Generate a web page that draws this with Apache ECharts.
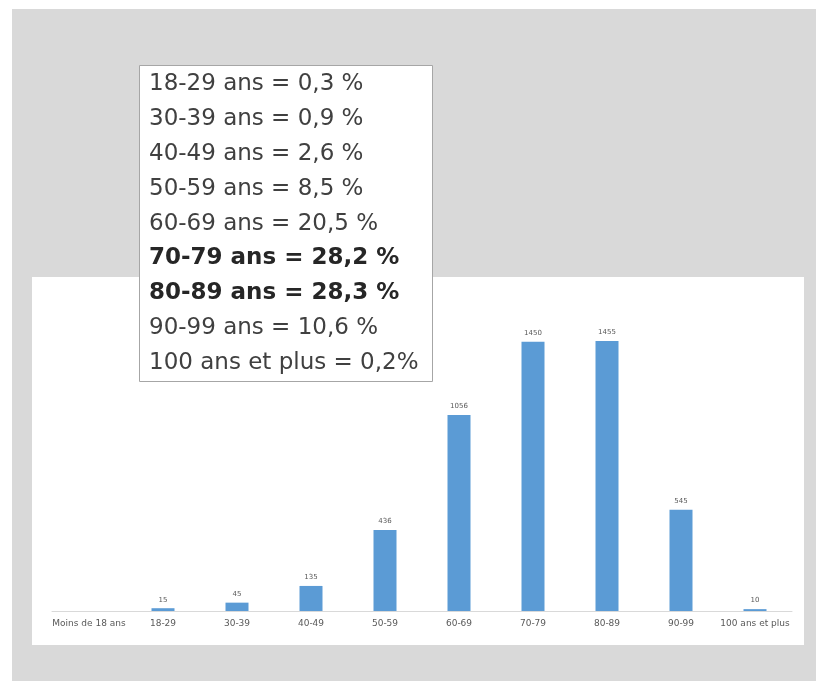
<!DOCTYPE html>
<html>
<head>
<meta charset="utf-8">
<script src="https://cdn.jsdelivr.net/npm/echarts@6/dist/echarts.min.js"></script>
<style>
  html, body { margin: 0; padding: 0; background: #fff; }
  #chart { width: 816px; height: 681px; }
</style>
</head>
<body>
<div id="chart"></div>
<script>
// age groups and counts
const categories = ['Moins de 18 ans', '18-29', '30-39', '40-49', '50-59', '60-69', '70-79', '80-89', '90-99', '100 ans et plus'];
const counts = [0, 15, 45, 135, 436, 1056, 1450, 1455, 545, 10];

// lines of the percentage box
const boxLabels = ['18-29 ans', '30-39 ans', '40-49 ans', '50-59 ans', '60-69 ans', '70-79 ans', '80-89 ans', '90-99 ans', '100 ans et plus'];
const boxPercents = ['0,3 %', '0,9 %', '2,6 %', '8,5 %', '20,5 %', '28,2 %', '28,3 %', '10,6 %', '0,2%'];
const boxBold = [false, false, false, false, false, true, true, false, false];

const chart = echarts.init(document.getElementById('chart'), null, { renderer: 'canvas' });

const boxTexts = boxLabels.map((lab, i) => ({
  type: 'text',
  left: 149,
  top: 73 + i * 34.8,
  z: 20,
  style: {
    text: lab + ' = ' + boxPercents[i],
    fill: boxBold[i] ? '#262626' : '#404040',
    font: (boxBold[i] ? 'bold ' : '') + '23px "DejaVu Sans", Verdana, sans-serif'
  }
}));

chart.setOption({
  backgroundColor: '#ffffff',
  animation: false,
  graphic: [
    { type: 'rect', shape: { x: 12, y: 9, width: 804, height: 672 }, style: { fill: '#d9d9d9' }, z: -10 },
    { type: 'rect', shape: { x: 32, y: 277, width: 772, height: 368 }, style: { fill: '#ffffff' }, z: -9 },
    { type: 'rect', shape: { x: 139.5, y: 65.5, width: 293, height: 316 }, style: { fill: '#ffffff', stroke: '#a6a6a6', lineWidth: 1 }, z: 19 },
    ...boxTexts
  ],
  grid: { left: 52, right: 24, top: 314, height: 297, containLabel: false },
  xAxis: {
    type: 'category',
    data: categories,
    axisLine: { lineStyle: { color: '#d9d9d9', width: 1 } },
    axisTick: { show: false },
    axisLabel: { color: '#595959', fontSize: 9, fontFamily: 'DejaVu Sans, Verdana, sans-serif', margin: 8, interval: 0 }
  },
  yAxis: {
    type: 'value',
    min: 0,
    max: 1600,
    show: false,
    splitLine: { show: false }
  },
  series: [{
    type: 'bar',
    data: counts,
    barWidth: 23,
    itemStyle: { color: '#5b9bd5' },
    label: {
      show: true,
      position: 'top',
      distance: 5,
      color: '#595959',
      fontSize: 7,
      fontFamily: 'DejaVu Sans, Verdana, sans-serif',
      formatter: p => (p.value > 0 ? String(p.value) : '')
    }
  }]
});
</script>
</body>
</html>
